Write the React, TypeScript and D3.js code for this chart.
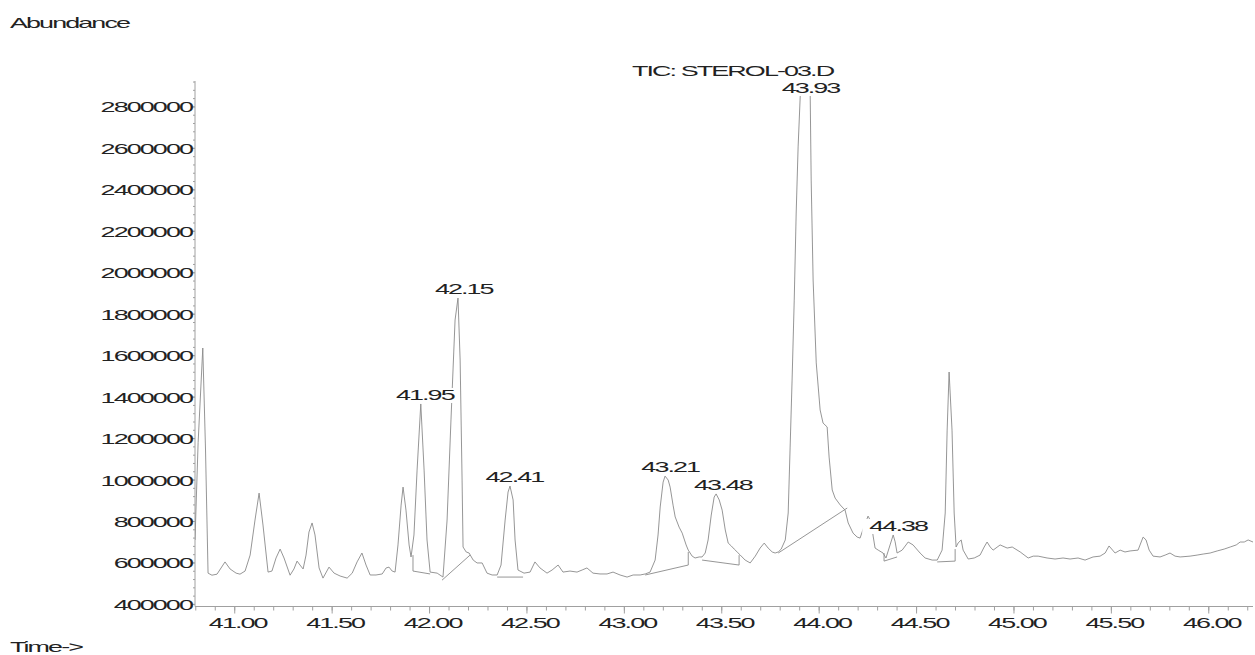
import React from "react";
import * as d3 from "d3";

// ---- data ----
const times = [
  40.796, 40.812, 40.836, 40.85, 40.863, 40.883, 40.909, 40.95, 40.976, 41.007,
  41.027, 41.053, 41.079, 41.104, 41.125, 41.145, 41.171, 41.191, 41.212, 41.233,
  41.253, 41.284, 41.304, 41.32, 41.335, 41.351, 41.366, 41.381, 41.397, 41.412,
  41.433, 41.453, 41.484, 41.51, 41.541, 41.577, 41.603, 41.628, 41.653, 41.674,
  41.695, 41.725, 41.757, 41.777, 41.792, 41.808, 41.823, 41.838, 41.854, 41.864,
  41.879, 41.895, 41.905, 41.92, 41.936, 41.955, 41.972, 41.987, 42.003, 42.039,
  42.069, 42.09, 42.11, 42.131, 42.146, 42.157, 42.167, 42.172, 42.188, 42.203,
  42.224, 42.244, 42.27, 42.295, 42.321, 42.347, 42.367, 42.388, 42.403, 42.413,
  42.429, 42.439, 42.454, 42.485, 42.516, 42.541, 42.567, 42.603, 42.629, 42.66,
  42.685, 42.721, 42.757, 42.783, 42.808, 42.839, 42.875, 42.911, 42.942, 42.978,
  43.014, 43.045, 43.081, 43.107, 43.132, 43.158, 43.173, 43.184, 43.199, 43.209,
  43.225, 43.235, 43.25, 43.261, 43.281, 43.297, 43.317, 43.328, 43.348, 43.363,
  43.384, 43.399, 43.415, 43.43, 43.446, 43.461, 43.471, 43.487, 43.502, 43.518,
  43.533, 43.549, 43.564, 43.579, 43.595, 43.62, 43.646, 43.672, 43.697, 43.718,
  43.738, 43.759, 43.774, 43.79, 43.805, 43.826, 43.841, 43.851, 43.861, 43.872,
  43.882, 43.892, 43.903, 43.912, 43.928, 43.945, 43.954, 43.959, 43.969, 43.985,
  44.005, 44.02, 44.041, 44.051, 44.067, 44.082, 44.108, 44.133, 44.149, 44.174,
  44.195, 44.21, 44.231, 44.251, 44.267, 44.277, 44.287, 44.303, 44.328, 44.343,
  44.364, 44.38, 44.39, 44.4, 44.426, 44.457, 44.482, 44.518, 44.544, 44.58,
  44.606, 44.631, 44.647, 44.657, 44.667, 44.682, 44.693, 44.703, 44.713, 44.729,
  44.739, 44.765, 44.796, 44.826, 44.847, 44.862, 44.878, 44.893, 44.929, 44.965,
  44.991, 45.032, 45.073, 45.099, 45.124, 45.17, 45.211, 45.252, 45.288, 45.329,
  45.365, 45.406, 45.442, 45.468, 45.488, 45.519, 45.545, 45.57, 45.596, 45.637,
  45.653, 45.663, 45.678, 45.694, 45.714, 45.75, 45.776, 45.801, 45.827, 45.853,
  45.904, 45.94, 45.971, 46.007, 46.043, 46.079, 46.11, 46.141, 46.161, 46.182,
  46.202, 46.227,
];

const abundance = [
  711000, 1180000, 1637000, 1145000, 551000, 541000, 546000, 605000, 571000, 551000,
  546000, 561000, 638000, 807000, 937000, 783000, 556000, 561000, 624000, 667000,
  624000, 541000, 571000, 609000, 590000, 571000, 638000, 749000, 793000, 735000,
  576000, 527000, 580000, 551000, 537000, 527000, 551000, 605000, 648000, 590000,
  542000, 542000, 547000, 576000, 580000, 561000, 556000, 687000, 879000, 966000,
  855000, 687000, 629000, 735000, 1048000, 1367000, 1048000, 711000, 556000, 551000,
  532000, 807000, 1290000, 1772000, 1878000, 1579000, 1000000, 677000, 653000, 648000,
  614000, 600000, 600000, 551000, 542000, 542000, 590000, 807000, 942000, 971000,
  904000, 711000, 566000, 551000, 556000, 605000, 576000, 551000, 566000, 590000,
  556000, 561000, 556000, 566000, 576000, 551000, 547000, 547000, 556000, 542000,
  532000, 542000, 542000, 547000, 556000, 614000, 735000, 870000, 990000, 1019000,
  1000000, 966000, 879000, 822000, 773000, 744000, 687000, 662000, 633000, 624000,
  629000, 629000, 648000, 711000, 831000, 918000, 933000, 904000, 855000, 759000,
  696000, 682000, 667000, 653000, 638000, 614000, 600000, 633000, 672000, 696000,
  672000, 653000, 648000, 653000, 667000, 711000, 841000, 1159000, 1482000, 1868000,
  2288000, 2607000, 2857000, 3000000, 3150000, 3000000, 2857000, 2447000, 1965000, 1565000,
  1338000, 1275000, 1256000, 1111000, 952000, 913000, 880000, 855000, 793000, 744000,
  725000, 720000, 778000, 826000, 798000, 730000, 672000, 662000, 648000, 624000,
  687000, 735000, 702000, 648000, 662000, 701000, 687000, 648000, 624000, 614000,
  614000, 662000, 841000, 1241000, 1521000, 1241000, 841000, 677000, 696000, 711000,
  662000, 619000, 624000, 638000, 677000, 701000, 677000, 662000, 687000, 672000,
  677000, 653000, 624000, 633000, 633000, 624000, 619000, 624000, 619000, 624000,
  614000, 629000, 633000, 648000, 682000, 648000, 662000, 653000, 658000, 662000,
  701000, 725000, 711000, 662000, 633000, 629000, 638000, 648000, 633000, 629000,
  633000, 638000, 643000, 648000, 658000, 667000, 677000, 687000, 701000, 701000,
  711000, 701000,
];

const yTickValues = [400000, 600000, 800000, 1000000, 1200000, 1400000, 1600000, 1800000, 2000000, 2200000, 2400000, 2600000, 2800000];
const xTickValues = [41.0, 41.5, 42.0, 42.5, 43.0, 43.5, 44.0, 44.5, 45.0, 45.5, 46.0];
const xTickLabels = ["41.00", "41.50", "42.00", "42.50", "43.00", "43.50", "44.00", "44.50", "45.00", "45.50", "46.00"];

const peakLabels = ["41.95", "42.15", "42.41", "43.21", "43.48", "43.93", "44.38"];
const peakTimes = [41.95, 42.15, 42.41, 43.21, 43.48, 43.93, 44.38];
const peakApex = [1367000, 1878000, 971000, 1019000, 933000, 3150000, 735000];

// integration baselines: [time, abundance] polylines
const baselineSegs: [number, number][][] = [
  [[41.915, 638000], [41.915, 561000], [42.003, 547000]],
  [[42.064, 517000], [42.208, 638000]],
  [[42.347, 532000], [42.48, 532000]],
  [[43.107, 542000], [43.328, 590000], [43.328, 653000]],
  [[43.399, 614000], [43.589, 590000], [43.589, 638000]],
  [[43.79, 648000], [44.144, 865000]],
  [[44.333, 648000], [44.333, 609000], [44.4, 629000]],
  [[44.606, 605000], [44.698, 609000], [44.698, 667000]],
];

const titleText = "TIC: STEROL-03.D";
const yTitle = "Abundance";
const xTitle = "Time->";

// ---- drawing ----
const W = 1255;
const H = 655;
const FONT = "'Liberation Sans', Arial, sans-serif";
const FS = 15.4;
const SX = 1.75;
const LS = -1.1;

function Txt(props: { x: number; y: number; anchor?: string; children: React.ReactNode }) {
  return (
    <text
      transform={`translate(${props.x},${props.y}) scale(${SX},1)`}
      textAnchor={props.anchor || "start"}
      fontFamily={FONT}
      fontSize={FS}
      letterSpacing={LS}
      fill="#222"
    >
      {props.children}
    </text>
  );
}

function textWidth(s: string) {
  let w = 0;
  for (const c of s) w += (c === "." ? 0.278 : 0.556) * FS + LS;
  return w * SX;
}

export default function App() {
  const x = d3.scaleLinear().domain([40.796, 46.227]).range([195, 1253]);
  const y = d3.scaleLinear().domain([390000, 2925000]).range([606.5, 81]);
  const [x0, x1] = x.range();
  const [yb, yt] = y.range();

  const line = d3
    .line<number>()
    .x((_, i) => x(times[i]))
    .y((d) => y(d));
  const segLine = d3
    .line<[number, number]>()
    .x((d) => x(d[0]))
    .y((d) => y(d[1]));

  const xMinor = d3.range(408, 463).map((k) => k / 10);
  const yMinor = d3.range(400000, 2925001, 40000);

  const axisColor = "#a0a0a0";
  const traceColor = "#8a8a8a";

  return (
    <svg
      width={W}
      height={H}
      style={{ position: "absolute", left: 0, top: 0, background: "#fff" }}
    >
      <defs>
        <clipPath id="plotClip">
          <rect x={x0} y={yt} width={x1 - x0} height={yb - yt} />
        </clipPath>
      </defs>
      <rect x={0} y={0} width={W} height={H} fill="#fff" />

      {/* axes */}
      <line x1={x0} x2={x0} y1={yt} y2={yb} stroke={axisColor} strokeWidth={1} />
      <line x1={x0} x2={x1} y1={yb} y2={yb} stroke={axisColor} strokeWidth={1} />
      {yMinor.map((v) => (
        <line key={"ym" + v} x1={x0 - 2} x2={x0} y1={y(v)} y2={y(v)} stroke={axisColor} strokeWidth={1} />
      ))}
      {yTickValues.map((v) => (
        <g key={"yt" + v}>
          <line x1={x0 - 4} x2={x0} y1={y(v)} y2={y(v)} stroke={axisColor} strokeWidth={1} />
          <Txt x={x0 - 3} y={y(v) + 5.5} anchor="end">
            {String(v)}
          </Txt>
        </g>
      ))}
      {xMinor.map((t) => (
        <line key={"xm" + t} x1={x(t)} x2={x(t)} y1={yb} y2={yb + 4} stroke={axisColor} strokeWidth={1} />
      ))}
      {xTickValues.map((t, i) => (
        <g key={"xt" + t}>
          <line x1={x(t)} x2={x(t)} y1={yb} y2={yb + 7} stroke={axisColor} strokeWidth={1} />
          <Txt x={x(t) + 3} y={628} anchor="middle">
            {xTickLabels[i]}
          </Txt>
        </g>
      ))}

      {/* trace */}
      <g clipPath="url(#plotClip)">
        <path d={line(abundance) || ""} fill="none" stroke={traceColor} strokeWidth={0.9} />
        {baselineSegs.map((s, i) => (
          <path key={"bl" + i} d={segLine(s) || ""} fill="none" stroke={traceColor} strokeWidth={0.9} />
        ))}
      </g>

      {/* peak labels with opaque background */}
      {peakLabels.map((lab, i) => {
        const cx = x(peakTimes[i]) + 5;
        const by = Math.max(y(peakApex[i]) - 4, yt + 12);
        const w = textWidth(lab);
        return (
          <g key={"pl" + lab}>
            <rect x={cx - w / 2 - 7} y={by - 12} width={w + 9} height={15} fill="#fff" />
            <Txt x={cx} y={by} anchor="middle">
              {lab}
            </Txt>
          </g>
        );
      })}

      {/* titles */}
      <Txt x={632} y={76}>
        {titleText}
      </Txt>
      <Txt x={10} y={28}>
        {yTitle}
      </Txt>
      <Txt x={10} y={652}>
        {xTitle}
      </Txt>
    </svg>
  );
}
